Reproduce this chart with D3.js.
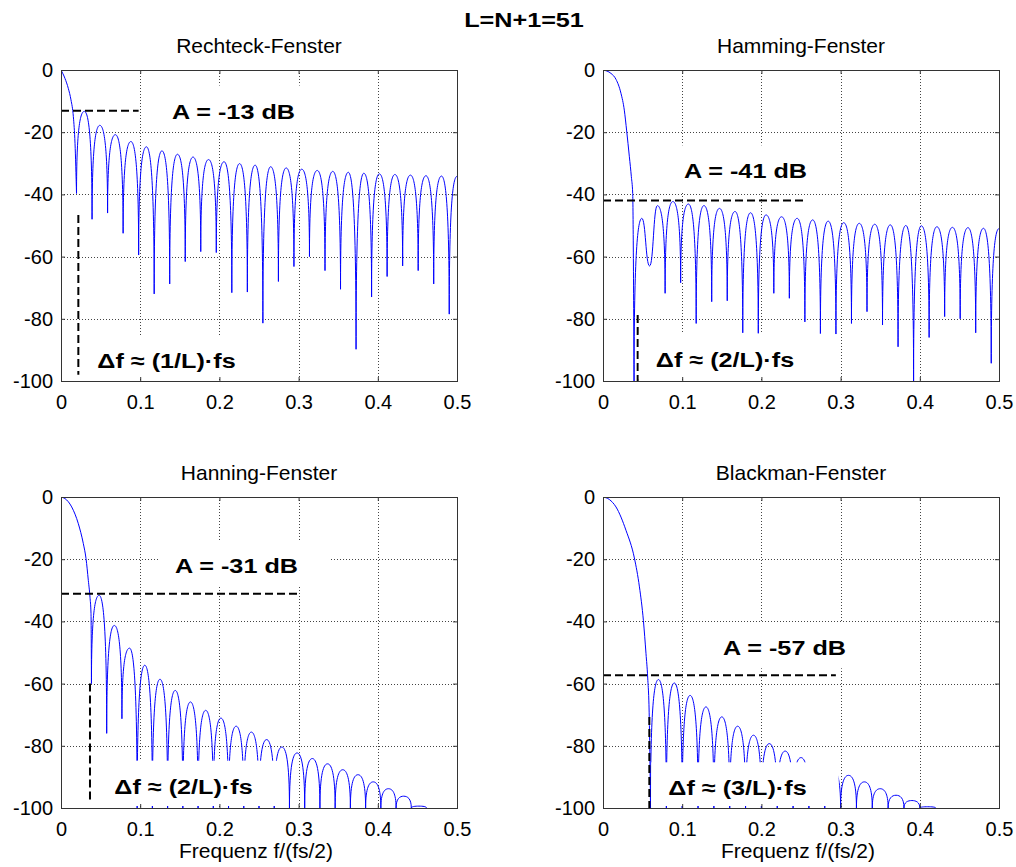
<!DOCTYPE html>
<html>
<head>
<meta charset="utf-8">
<script src="https://cdn.jsdelivr.net/npm/d3@7"></script>
<style>
body { margin: 0; background: #fff; }
text { font-family: "Liberation Sans", Arial, sans-serif; fill: #000; }
</style>
</head>
<body>
<svg id="chart" width="1016" height="867"></svg>
<script>
// ---- data ----
var titles = ['Rechteck-Fenster', 'Hamming-Fenster', 'Hanning-Fenster', 'Blackman-Fenster'];
var xTicks = [0, 0.1, 0.2, 0.3, 0.4, 0.5];
var yTicks = [-100, -80, -60, -40, -20, 0];

// main lobe, f and dB down to just before the first null
var rechteckMainF = [0, 0.005, 0.0092, 0.0126, 0.0156, 0.0177];
var rechteckMainDb = [0, -2.7, -5.9, -9.6, -15, -23.6];
var hammingMainF = [0, 0.0101, 0.0164, 0.0227, 0.0269, 0.0299, 0.0333, 0.0358, 0.0375];
var hammingMainDb = [0, -1.1, -3.0, -7.5, -12.9, -19.6, -27.9, -34.3, -39.7];
var hanningMainF = [0, 0.005, 0.0135, 0.0219, 0.0282, 0.0316, 0.0345, 0.0366, 0.0379];
var hanningMainDb = [0, -0.5, -3.2, -8.6, -15, -19.8, -26.8, -32.2, -37.5];
var blackmanMainF = [0, 0.008, 0.0164, 0.029, 0.0396, 0.046, 0.051, 0.0543, 0.0564, 0.0584];
var blackmanMainDb = [0, -0.8, -3.2, -10.7, -19.6, -28.9, -39.7, -50.4, -57.9, -70.7];

// null spacing (nulls sit at k/bins), first null index, null depths, lobe peaks
var rechteckBins = 51, rechteckK0 = 1;
var rechteckNullDb = [-39.7, -48, -46, -52.5, -59.5, -72, -68.8, -61.6, -58.4, -58.7, -71.6, -71.4, -81.4,
  -68, -63.2, -60, -64.5, -70.5, -89.8, -73, -66.4, -63, -64.5, -68.8, -78.5];
var rechteckPeakDb = [-13.3, -17.8, -20.8, -23.0, -24.7, -26.0, -27.1, -28.0, -28.8, -29.5, -30.1, -30.6,
  -31.1, -31.5, -31.9, -32.3, -32.6, -32.9, -33.2, -33.4, -33.6, -33.8, -34.0, -34.1, -34.2];

var hammingBins = 51, hammingK0 = 2, hammingSoft = [3];
var hammingNullDb = [-100, -63, -71.8, -68.4, -81.5, -74.5, -74.2, -84.5, -84.7, -71.8, -73.4, -81,
  -84.9, -84.9, -81.5, -77.7, -82, -89, -100, -86, -79.3, -80, -84.5, -94.3];
var hammingPeakDb = [-47.7, -43.6, -42.3, -43.1, -43.6, -44.5, -45.5, -45.9, -46.6, -47.2, -47.7, -48.2,
  -48.6, -49.1, -49.3, -49.6, -49.8, -50.0, -50.1, -50.4, -50.6, -50.7, -50.9, -51.0];

var hanningBins = 52, hanningK0 = 2;
var hanningNullDb = [-60, -76, -71.3, -100, -100, -100, -100, -100, -100, -100, -100, -100,
  -100, -100, -100, -100, -100, -100, -100, -100, -100, -100, -100];
var hanningPeakDb = [-31.6, -41.3, -48.6, -54.1, -58.6, -62.2, -65.9, -68.6, -71.1, -73.7, -75.6,
  -78.0, -80.4, -82.3, -84.1, -85.8, -87.7, -89.3, -91.6, -93.8, -96.2, -99.4];

var blackmanBins = 50, blackmanK0 = 3;
var blackmanNullDb = [-100, -100, -100, -100, -100, -100, -100, -100, -100, -100, -100, -100,
  -100, -100, -100, -100, -100, -100, -100];
var blackmanPeakDb = [-58.7, -59.8, -63.8, -67.5, -70.7, -73.7, -76.6, -79.3, -81.7, -83.8, -85.8,
  -87.7, -89.5, -91.6, -93.8, -95.9, -97.6, -99.6];

// annotations
var ampLabels = ['A = -13 dB', 'A = -41 dB', 'A = -31 dB', 'A = -57 dB'];
var dfLabels = ['\u0394f \u2248 (1/L)\u00b7fs', '\u0394f \u2248 (2/L)\u00b7fs', '\u0394f \u2248 (2/L)\u00b7fs', '\u0394f \u2248 (3/L)\u00b7fs'];
var ampLineDb = [-13.1, -42, -31.1, -57.3];
var ampLineEndF = [0.098, 0.254, 0.3, 0.294];
var dfLineF = [0.0219, 0.0438, 0.0366, 0.0585];
var dfLineTopDb = [-46.6, -78.8, -60, -70.7];
var dfLineBottomDb = [-98, -100, -98, -100];

// ---- layout ----
var W = 396, H = 311;
var svg = d3.select('#chart');

var panels = [
  {x: 61, y: 70, mainF: rechteckMainF, mainDb: rechteckMainDb, bins: rechteckBins, k0: rechteckK0,
   nullDb: rechteckNullDb, peakDb: rechteckPeakDb, soft: [], ampPos: [172.5, 48.5], dfPos: [105.5, 298], xlabel: false},
  {x: 603, y: 70, mainF: hammingMainF, mainDb: hammingMainDb, bins: hammingBins, k0: hammingK0,
   nullDb: hammingNullDb, peakDb: hammingPeakDb, soft: hammingSoft, ampPos: [142.5, 108.3], dfPos: [122, 296.7], xlabel: false},
  {x: 61, y: 497, mainF: hanningMainF, mainDb: hanningMainDb, bins: hanningBins, k0: hanningK0,
   nullDb: hanningNullDb, peakDb: hanningPeakDb, soft: [], ampPos: [175.5, 76], dfPos: [122.5, 296.7], xlabel: true},
  {x: 603, y: 497, mainF: blackmanMainF, mainDb: blackmanMainDb, bins: blackmanBins, k0: blackmanK0,
   nullDb: blackmanNullDb, peakDb: blackmanPeakDb, soft: [], ampPos: [181.5, 158.3], dfPos: [134.5, 298.3], xlabel: true}
];

var stretch = 1.2; // the bold labels are drawn wider than the font

svg.append('text')
  .attr('transform', 'translate(524,27) scale(' + stretch + ',1)')
  .attr('text-anchor', 'middle')
  .attr('font-size', 21).attr('font-weight', 'bold')
  .text('L=N+1=51');

function lobePoints(p, sx, sy){
  var pts = [];
  p.nullDb.forEach(function(db, i){
    var k = p.k0 + i;
    pts.push({x: sx(k / p.bins), y: sy(db), flat: p.soft.indexOf(k) >= 0});
    if (i < p.peakDb.length)
      pts.push({x: sx((k + 0.5) / p.bins), y: sy(p.peakDb[i]), flat: true});
  });
  return pts;
}

// arches: flat tangent on peaks, vertical tangent into the nulls
function lobePath(pts){
  var path = d3.path();
  path.moveTo(pts[0].x, pts[0].y);
  for (var i = 1; i < pts.length; i++){
    var a = pts[i - 1], b = pts[i], dx = b.x - a.x;
    var c1 = a.flat ? [a.x + 0.5 * dx, a.y] : [a.x, a.y + 0.8 * (b.y - a.y)];
    var c2 = b.flat ? [b.x - 0.5 * dx, b.y] : [b.x, b.y + 0.8 * (a.y - b.y)];
    path.bezierCurveTo(c1[0], c1[1], c2[0], c2[1], b.x, b.y);
  }
  return path.toString();
}

panels.forEach(function(p, i){
  var g = svg.append('g').attr('transform', 'translate(' + p.x + ',' + p.y + ')');
  var sx = d3.scaleLinear().domain([0, 0.5]).range([0, W]);
  var sy = d3.scaleLinear().domain([-100, 0]).range([H, 0]);

  g.append('clipPath').attr('id', 'clip' + i)
    .append('rect').attr('width', W).attr('height', H);

  // dotted grid
  g.selectAll('.gx').data(xTicks.slice(1, -1)).enter().append('line')
    .attr('x1', function(d){ return Math.round(sx(d)) + 0.5; })
    .attr('x2', function(d){ return Math.round(sx(d)) + 0.5; })
    .attr('y1', 0).attr('y2', H)
    .attr('stroke', '#444').attr('stroke-dasharray', '1,2');
  g.selectAll('.gy').data(yTicks.slice(1, -1)).enter().append('line')
    .attr('y1', function(d){ return Math.round(sy(d)) + 0.5; })
    .attr('y2', function(d){ return Math.round(sy(d)) + 0.5; })
    .attr('x1', 0).attr('x2', W)
    .attr('stroke', '#444').attr('stroke-dasharray', '1,2');

  // spectrum
  var pts = lobePoints(p, sx, sy);
  var curve = g.append('g').attr('clip-path', 'url(#clip' + i + ')');
  var mainPts = d3.zip(p.mainF, p.mainDb).map(function(d){ return [sx(d[0]), sy(d[1])]; });
  mainPts.push([pts[0].x, pts[0].y]);
  curve.append('path')
    .attr('d', d3.line().curve(d3.curveMonotoneX)(mainPts))
    .attr('fill', 'none').attr('stroke', '#0000ff').attr('stroke-width', 1);
  curve.append('path')
    .attr('d', lobePath(pts))
    .attr('fill', 'none').attr('stroke', '#0000ff').attr('stroke-width', 1);

  // dashed markers
  g.append('line')
    .attr('x1', sx(0)).attr('x2', sx(ampLineEndF[i]))
    .attr('y1', sy(ampLineDb[i])).attr('y2', sy(ampLineDb[i]))
    .attr('stroke', '#000').attr('stroke-width', 2).attr('stroke-dasharray', '8,4');
  g.append('line')
    .attr('x1', sx(dfLineF[i])).attr('x2', sx(dfLineF[i]))
    .attr('y1', sy(dfLineTopDb[i])).attr('y2', sy(dfLineBottomDb[i]))
    .attr('stroke', '#000').attr('stroke-width', 2).attr('stroke-dasharray', '8,4');

  // labels on white boxes
  [[ampLabels[i], p.ampPos], [dfLabels[i], p.dfPos]].forEach(function(l){
    var box = g.append('rect').attr('fill', '#fff');
    var t = g.append('text')
      .attr('transform', 'translate(' + l[1][0] + ',' + l[1][1] + ') scale(' + stretch + ',1)')
      .attr('text-anchor', 'middle')
      .attr('font-size', 21).attr('font-weight', 'bold')
      .text(l[0]);
    var w = t.node().getComputedTextLength() * stretch;
    var x0 = l[1][0] - w / 2, x1 = l[1][0] + w / 2;
    var bx0 = Math.max(x0 - 17, 1), bx1 = Math.min(x1 + 32, W - 1);
    var by0 = l[1][1] - 33, by1 = Math.min(l[1][1] + 13, H - 2);
    box.attr('x', bx0).attr('y', by0).attr('width', bx1 - bx0).attr('height', by1 - by0);
  });

  // axes, ticks pointing inward on all sides
  var fmt = function(d){ return String(d); };
  var ax = g.append('g').attr('transform', 'translate(0,' + H + ')')
    .call(d3.axisBottom(sx).tickValues(xTicks).tickFormat(fmt).tickSizeInner(-4).tickSizeOuter(0).tickPadding(13.5));
  var ay = g.append('g')
    .call(d3.axisLeft(sy).tickValues(yTicks).tickFormat(fmt).tickSizeInner(-4).tickSizeOuter(0).tickPadding(8));
  var at = g.append('g')
    .call(d3.axisTop(sx).tickValues(xTicks).tickFormat('').tickSizeInner(-4).tickSizeOuter(0));
  var ar = g.append('g').attr('transform', 'translate(' + W + ',0)')
    .call(d3.axisRight(sy).tickValues(yTicks).tickFormat('').tickSizeInner(-4).tickSizeOuter(0));
  [ax, ay, at, ar].forEach(function(a){
    a.select('.domain').remove();
    a.selectAll('line').attr('stroke', '#333');
    a.selectAll('text').attr('font-size', 20).attr('font-family', '"Liberation Sans", Arial, sans-serif').attr('fill', '#000');
  });

  g.append('rect')
    .attr('x', 0.5).attr('y', 0.5).attr('width', W).attr('height', H)
    .attr('fill', 'none').attr('stroke', '#333').attr('stroke-width', 1);

  g.append('text')
    .attr('x', W / 2).attr('y', -17)
    .attr('text-anchor', 'middle').attr('font-size', 21)
    .text(titles[i]);

  if (p.xlabel){
    g.append('text')
      .attr('x', W / 2 - 3).attr('y', H + 50)
      .attr('text-anchor', 'middle').attr('font-size', 21)
      .text('Frequenz f/(fs/2)');
  }
});
</script>
</body>
</html>
